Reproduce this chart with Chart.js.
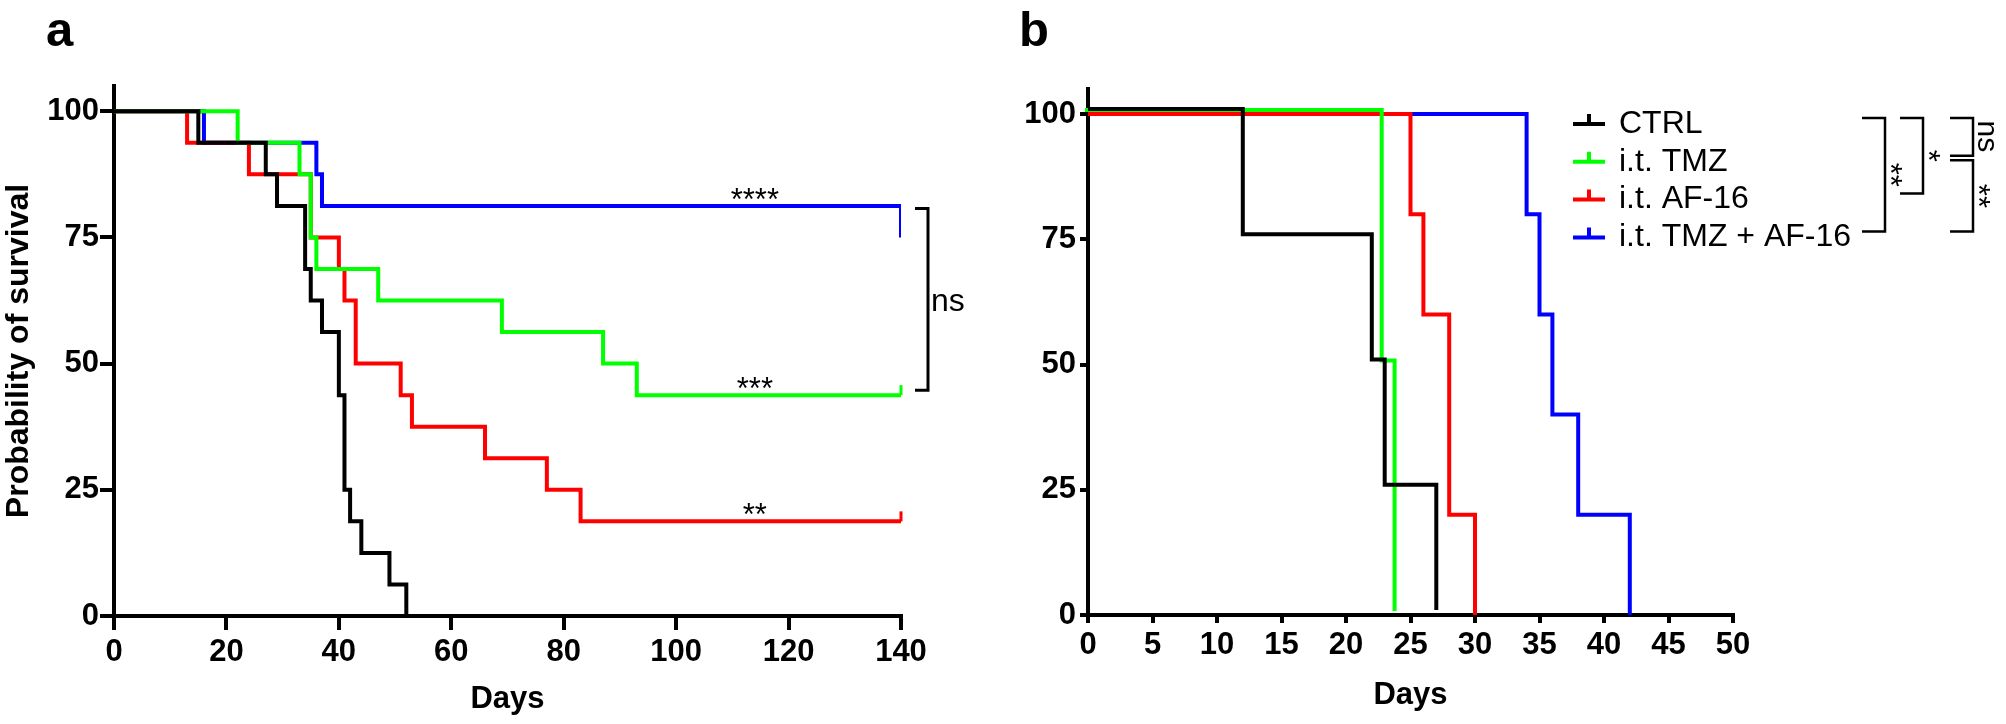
<!DOCTYPE html>
<html>
<head>
<meta charset="utf-8">
<script src="https://cdn.jsdelivr.net/npm/chart.js@4.4.1/dist/chart.umd.min.js"></script>
<style>
  html, body { margin: 0; padding: 0; background: #fff; }
  body { width: 2006px; height: 724px; position: relative; overflow: hidden; }
  .panel { position: absolute; top: 0; height: 724px; }
  #wrapA { left: 0; width: 1000px; }
  #wrapB { left: 1000px; width: 1006px; }
</style>
</head>
<body>
<div class="panel" id="wrapA"><canvas id="chartA"></canvas></div>
<div class="panel" id="wrapB"><canvas id="chartB"></canvas></div>
<script>
var seriesNames = ['CTRL', 'i.t. TMZ', 'i.t. AF-16', 'i.t. TMZ + AF-16'];

// panel a: day of each step and survival (%) after it
var aCtrlDays  = [0, 15, 27, 29, 34, 35, 37, 40, 41, 42, 44, 49, 52];
var aCtrlSurv  = [100, 93.75, 87.5, 81.25, 68.75, 62.5, 56.25, 43.75, 25, 18.75, 12.5, 6.25, 0];
var aTmzDays   = [0, 22, 33, 35, 36, 47, 69, 87, 93, 140];
var aTmzSurv   = [100, 93.75, 87.5, 75, 68.75, 62.5, 56.25, 50, 43.75, 43.75];
var aAfDays    = [0, 13, 24, 35, 40, 41, 43, 51, 53, 66, 77, 83, 140];
var aAfSurv    = [100, 93.75, 87.5, 75, 68.75, 62.5, 50, 43.75, 37.5, 31.25, 25, 18.75, 18.75];
var aComboDays = [0, 16, 36, 37, 140];
var aComboSurv = [100, 93.75, 87.5, 81.25, 75];
var aXTicks = [0, 20, 40, 60, 80, 100, 120, 140];
var aYTicks = [0, 25, 50, 75, 100];
var aStarSeries = [3, 1, 2];
var aStarText = ['****', '***', '**'];
var aStarDay = 114;
var aBracket = [3, 1, 'ns'];

// panel b
var bCtrlDays  = [0, 12, 22, 23, 27];
var bCtrlSurv  = [100, 75, 50, 25, 0];
var bTmzDays   = [0, 23, 24];
var bTmzSurv   = [100, 50, 0];
var bAfDays    = [0, 25, 26, 28, 30];
var bAfSurv    = [100, 80, 60, 20, 0];
var bComboDays = [0, 34, 35, 36, 38, 42];
var bComboSurv = [100, 80, 60, 40, 20, 0];
var bXTicks = [0, 5, 10, 15, 20, 25, 30, 35, 40, 45, 50];
var bYTicks = [0, 25, 50, 75, 100];
var bComparisons = [[0, 3, '**'], [0, 2, '*'], [0, 1, 'ns'], [1, 3, '**']];

var colors = ['#000000', '#00ff00', '#ff0000', '#0000ff'];
var FONT = "'Liberation Sans', Arial, Helvetica, sans-serif";
Chart.defaults.font.family = FONT;
Chart.defaults.color = '#000';

function pts(days, surv) {
  return days.map(function (d, i) { return { x: d, y: surv[i] }; });
}
function survAt(days, surv, t) {
  var v = surv[0];
  for (var i = 0; i < days.length; i++) { if (days[i] <= t) v = surv[i]; }
  return v;
}
function zeroPad(s) {
  s.paddingLeft = 0; s.paddingRight = 0; s.paddingTop = 0; s.paddingBottom = 0;
}
function centerText(ctx, text, cx, cy) {
  ctx.textAlign = 'left'; ctx.textBaseline = 'alphabetic';
  var m = ctx.measureText(text);
  ctx.fillText(text, cx - (m.actualBoundingBoxRight - m.actualBoundingBoxLeft) / 2,
    cy - (m.actualBoundingBoxDescent - m.actualBoundingBoxAscent) / 2);
}
function leftText(ctx, text, lx, cy) {
  ctx.textAlign = 'left'; ctx.textBaseline = 'alphabetic';
  var m = ctx.measureText(text);
  ctx.fillText(text, lx + m.actualBoundingBoxLeft,
    cy - (m.actualBoundingBoxDescent - m.actualBoundingBoxAscent) / 2);
}
// text turned 90deg clockwise, glyph left edge at lx, centred on cy
function rotText(ctx, text, lx, cy) {
  ctx.save();
  ctx.textAlign = 'left'; ctx.textBaseline = 'alphabetic';
  var m = ctx.measureText(text);
  ctx.translate(lx + m.actualBoundingBoxDescent, cy - (m.actualBoundingBoxRight - m.actualBoundingBoxLeft) / 2);
  ctx.rotate(Math.PI / 2);
  ctx.fillText(text, 0, 0);
  ctx.restore();
}

function makeSets(list) {
  return list.map(function (s, i) {
    return Object.assign({
      label: seriesNames[i],
      data: pts(s[0], s[1]),
      borderColor: colors[i],
      borderWidth: 4,
      pointRadius: 0,
      stepped: true,
      fill: false
    }, s[2] || {});
  });
}

// offsets like Prism uses for overlapping curves, and censor tick at the end
var kmExtras = {
  id: 'kmExtras',
  beforeDatasetDraw: function (chart, args) {
    var ds = chart.data.datasets[args.index];
    if (ds.shift) { chart.ctx.save(); chart.ctx.translate(ds.shift[0], ds.shift[1]); }
  },
  afterDatasetDraw: function (chart, args) {
    var ds = chart.data.datasets[args.index];
    var ctx = chart.ctx;
    if (ds.shift) ctx.restore();
    if (ds.endTick) {
      var p = args.meta.data[args.meta.data.length - 1];
      ctx.save();
      ctx.strokeStyle = ds.borderColor; ctx.lineWidth = 3;
      ctx.beginPath(); ctx.moveTo(p.x, p.y); ctx.lineTo(p.x, p.y - 10); ctx.stroke();
      ctx.restore();
    }
  }
};

function axes(o) {
  var tickFont = { family: FONT, size: 31, weight: 'bold' };
  return {
    x: {
      type: 'linear', min: 0, max: o.xMax,
      afterBuildTicks: function (s) { s.ticks = o.xTicks.map(function (v) { return { value: v }; }); },
      afterFit: function (s) { s.height = o.xHeight; zeroPad(s); },
      grid: { drawOnChartArea: false, drawTicks: true, tickLength: o.tick, tickWidth: 4, lineWidth: 4, tickColor: '#000' },
      border: { display: true, width: 4, color: '#000' },
      ticks: { font: tickFont, color: '#000', padding: 4, maxRotation: 0, autoSkip: false },
      title: { display: true, text: 'Days', color: '#000', font: { family: FONT, size: 31, weight: 'bold' },
               padding: { top: 0, bottom: o.daysPad } }
    },
    y: {
      min: 0, max: 105,
      afterBuildTicks: function (s) { s.ticks = o.yTicks.map(function (v) { return { value: v }; }); },
      afterFit: function (s) { s.width = o.yWidth; zeroPad(s); },
      grid: { drawOnChartArea: false, drawTicks: true, tickLength: o.tick, tickWidth: 4, lineWidth: 4, tickColor: '#000' },
      border: { display: true, width: 4, color: '#000' },
      ticks: { font: tickFont, color: '#000', padding: o.yPad, autoSkip: false },
      title: { display: !!o.yTitle, text: o.yTitle || '', color: '#000',
               font: { family: FONT, size: 32, weight: 'bold' }, padding: { top: 0, bottom: 0 } }
    }
  };
}

var panelA = {
  id: 'panelA',
  afterDraw: function (chart) {
    var ctx = chart.ctx, xs = chart.scales.x, ys = chart.scales.y;
    var sets = [[aCtrlDays, aCtrlSurv], [aTmzDays, aTmzSurv], [aAfDays, aAfSurv], [aComboDays, aComboSurv]];
    ctx.save();
    ctx.fillStyle = '#000';
    ctx.font = 'bold 49px ' + FONT;
    ctx.textAlign = 'left'; ctx.textBaseline = 'alphabetic';
    ctx.fillText('a', 46, 46);

    ctx.font = '31px ' + FONT;
    aStarSeries.forEach(function (si, k) {
      var v = survAt(sets[si][0], sets[si][1], aStarDay);
      centerText(ctx, aStarText[k], xs.getPixelForValue(aStarDay), ys.getPixelForValue(v) - 12);
    });

    var top = ys.getPixelForValue(survAt(sets[aBracket[0]][0], sets[aBracket[0]][1], aStarDay)) + 2.5;
    var bot = ys.getPixelForValue(survAt(sets[aBracket[1]][0], sets[aBracket[1]][1], aStarDay)) - 5;
    var vx = xs.getPixelForValue(140) + 27;
    ctx.strokeStyle = '#000'; ctx.lineWidth = 3; ctx.lineJoin = 'miter';
    ctx.beginPath();
    ctx.moveTo(vx - 13, top); ctx.lineTo(vx, top); ctx.lineTo(vx, bot); ctx.lineTo(vx - 13, bot);
    ctx.stroke();
    ctx.font = '32px ' + FONT;
    leftText(ctx, aBracket[2], vx + 5, (top + bot) / 2 + 3);
    ctx.restore();
  }
};

var legX = 573, legY0 = 124, legStep = 37.8;
var bracketX = [885, 923, 973, 973];
var panelB = {
  id: 'panelB',
  afterDraw: function (chart) {
    var ctx = chart.ctx;
    ctx.save();
    ctx.fillStyle = '#000';
    ctx.font = 'bold 49px ' + FONT;
    ctx.textAlign = 'left'; ctx.textBaseline = 'alphabetic';
    ctx.fillText('b', 19, 46);

    chart.data.datasets.forEach(function (ds, i) {
      var y = legY0 + i * legStep;
      ctx.strokeStyle = ds.borderColor; ctx.lineWidth = 4;
      ctx.beginPath();
      ctx.moveTo(legX, y); ctx.lineTo(legX + 32, y);
      ctx.moveTo(legX + 16, y); ctx.lineTo(legX + 16, y - 10);
      ctx.stroke();
      ctx.fillStyle = '#000';
      ctx.font = '32px ' + FONT;
      ctx.textAlign = 'left'; ctx.textBaseline = 'middle';
      ctx.fillText(ds.label, legX + 46, y);
    });

    bComparisons.forEach(function (c, k) {
      var vx = bracketX[k];
      var top = legY0 + c[0] * legStep - 6 + (c[0] > 0 ? 4.5 : 0);
      var bot = legY0 + c[1] * legStep - 6;
      ctx.strokeStyle = '#000'; ctx.lineWidth = 2.5; ctx.lineJoin = 'miter';
      ctx.beginPath();
      ctx.moveTo(vx - 23, top); ctx.lineTo(vx, top); ctx.lineTo(vx, bot); ctx.lineTo(vx - 23, bot);
      ctx.stroke();
      ctx.fillStyle = '#000';
      ctx.font = (c[2] === 'ns' ? '30px ' : '31px ') + FONT;
      rotText(ctx, c[2], vx + 5, (top + bot) / 2);
    });
    ctx.restore();
  }
};

new Chart(document.getElementById('chartA'), {
  type: 'line',
  data: {
    datasets: makeSets([
      [aCtrlDays, aCtrlSurv],
      [aTmzDays, aTmzSurv, { endTick: true }],
      [aAfDays, aAfSurv, { endTick: true }],
      [aComboDays, aComboSurv]
    ])
  },
  options: {
    responsive: true, maintainAspectRatio: false, animation: false,
    layout: { padding: { left: 0, top: 86, right: 99, bottom: 0 } },
    plugins: { legend: { display: false }, tooltip: { enabled: false } },
    scales: axes({ xMax: 140, xTicks: aXTicks, yTicks: aYTicks, xHeight: 108, yWidth: 114,
                   tick: 14, yPad: 1, daysPad: 6, yTitle: 'Probability of survival' })
  },
  plugins: [kmExtras, panelA]
});

new Chart(document.getElementById('chartB'), {
  type: 'line',
  data: {
    datasets: makeSets([
      [bCtrlDays, bCtrlSurv, { shift: [0, -5] }],
      [bTmzDays, bTmzSurv, { shift: [-3, -4] }],
      [bAfDays, bAfSurv],
      [bComboDays, bComboSurv]
    ])
  },
  options: {
    responsive: true, maintainAspectRatio: false, animation: false,
    layout: { padding: { left: 0, top: 89, right: 273, bottom: 0 } },
    plugins: { legend: { display: false }, tooltip: { enabled: false } },
    scales: axes({ xMax: 50, xTicks: bXTicks, yTicks: bYTicks, xHeight: 109, yWidth: 88,
                   tick: 8, yPad: 4, daysPad: 10 })
  },
  plugins: [kmExtras, panelB]
});
</script>
</body>
</html>
